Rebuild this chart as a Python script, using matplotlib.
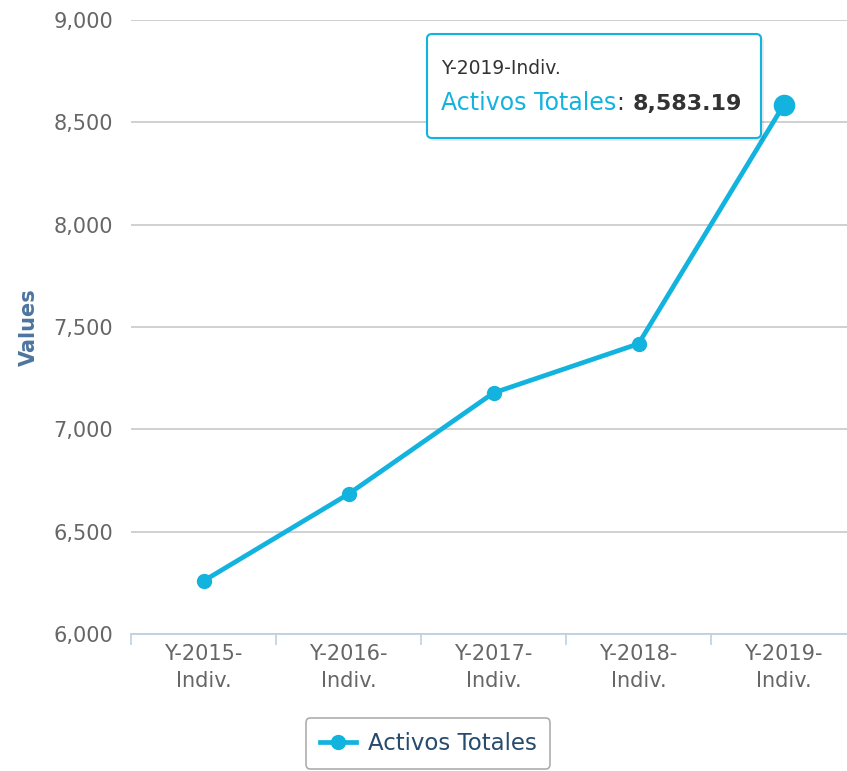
import matplotlib
matplotlib.use("Agg")
import matplotlib.pyplot as plt
from matplotlib.patches import FancyBboxPatch
from matplotlib.lines import Line2D

# datos
categories = ["Y-2015-\nIndiv.", "Y-2016-\nIndiv.", "Y-2017-\nIndiv.", "Y-2018-\nIndiv.", "Y-2019-\nIndiv."]
values = [6259, 6684, 7178, 7418, 8583.19]
series_name = "Activos Totales"
y_ticks = [6000, 6500, 7000, 7500, 8000, 8500, 9000]

W, H = 847, 771
LINE_COLOR = "#12b3de"


def px(x, y):
    """pixel (desde arriba-izquierda) -> fraccion de figura"""
    return x / W, 1 - y / H


fig = plt.figure(figsize=(W / 100, H / 100), dpi=100)
ax = fig.add_axes([131 / W, 1 - 634 / H, 725 / W, 614 / H])

ax.plot(range(len(values)), values, color=LINE_COLOR, linewidth=3.4,
        marker="o", markersize=10, zorder=3, clip_on=False)
# punto resaltado (hover)
ax.plot([len(values) - 1], [values[-1]], "o", color=LINE_COLOR,
        markersize=14.5, zorder=4, clip_on=False)

ax.set_xlim(-0.5, len(values) - 0.5)
ax.set_ylim(y_ticks[0], y_ticks[-1])
ax.set_yticks(y_ticks)
ax.set_yticklabels(["{:,}".format(v) for v in y_ticks])
ax.set_xticks(range(len(categories)))
ax.set_xticklabels(categories, linespacing=1.45)
ax.set_xticks([i - 0.5 for i in range(len(categories) + 1)], minor=True)

ax.grid(axis="y", color="#c4c4c4", linewidth=1.1)
ax.set_axisbelow(True)
for s in ["top", "right", "left"]:
    ax.spines[s].set_visible(False)
ax.spines["bottom"].set_color("#c0d0e0")
ax.spines["bottom"].set_linewidth(1.3)

ax.tick_params(axis="y", length=0, pad=13, labelsize=15, labelcolor="#666666")
ax.tick_params(axis="x", which="major", length=0, pad=7, labelsize=15, labelcolor="#666666")
ax.tick_params(axis="x", which="minor", length=8, width=1.2, color="#c0d0e0")

ax.set_ylabel("Values", fontsize=15, fontweight="bold", color="#4d759e", labelpad=10)

# tooltip
x0, y0 = px(427, 138)
x1, y1 = px(761, 34)
shadow = FancyBboxPatch((x0 + 3 / W, y0 - 3 / H), x1 - x0, y1 - y0,
                        boxstyle="round,pad=0,rounding_size=0.006",
                        transform=fig.transFigure, facecolor="#000000", alpha=0.08,
                        edgecolor="none", zorder=9)
box = FancyBboxPatch((x0, y0), x1 - x0, y1 - y0,
                     boxstyle="round,pad=0,rounding_size=0.006",
                     transform=fig.transFigure, facecolor="white",
                     edgecolor=LINE_COLOR, linewidth=1.5, zorder=10)
fig.patches.extend([shadow, box])
fig.text(*px(441, 74), "Y-2019-Indiv.", fontsize=13.5, color="#333333", zorder=11)
fig.text(*px(441, 110), series_name, fontsize=17, color=LINE_COLOR, zorder=11)
fig.text(*px(616, 110), ":", fontsize=17, color="#333333", zorder=11)
fig.text(*px(633, 110), "{:,.2f}".format(values[-1]), fontsize=16,
         fontweight="bold", color="#333333", zorder=11)

# leyenda
handle = Line2D([], [], color=LINE_COLOR, linewidth=3.4, marker="o", markersize=10)
leg = fig.legend([handle], [series_name], loc="upper center",
                 bbox_to_anchor=px(428, 718), fontsize=16.5, frameon=True,
                 fancybox=True, handlelength=1.6, borderpad=0.6, handletextpad=0.5,
                 borderaxespad=0)
leg.get_frame().set_edgecolor("#999999")
leg.get_frame().set_linewidth(1.2)
for t in leg.get_texts():
    t.set_color("#274b6d")

fig.savefig("out.png", dpi=100)
